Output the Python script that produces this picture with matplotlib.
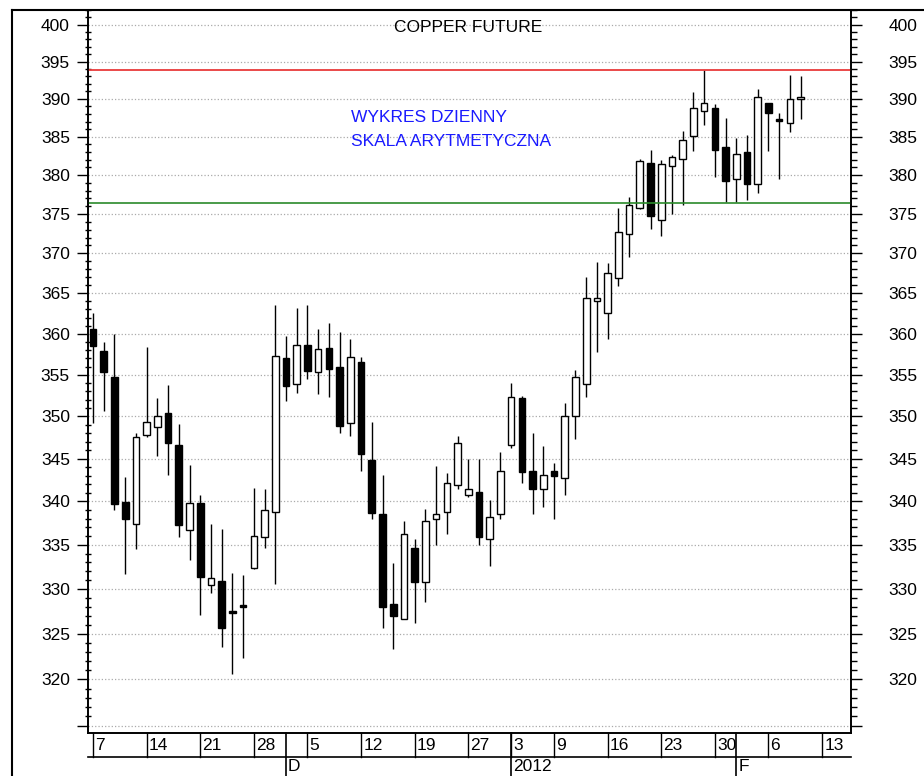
import matplotlib.pyplot as plt
from matplotlib.lines import Line2D
from matplotlib.ticker import NullFormatter

plt.rcParams['font.family'] = ['Liberation Sans', 'DejaVu Sans']

# daily candles, Nov 7 2011 .. Feb 9 2012 (trading day index = position)
opens = [360.6, 357.9, 354.7, 339.9, 337.4, 347.8, 348.7, 350.4, 346.6, 336.7,
         339.8, 330.5, 330.9, 327.5, 328.2, 332.4, 335.9, 338.8, 357.0, 353.9,
         358.6, 355.3, 358.3, 355.9, 349.2, 356.5, 344.8, 338.5, 328.3, 326.6,
         334.6, 330.8, 338.0, 338.8, 341.9, 340.8, 341.1, 335.7, 338.6, 346.6,
         352.2, 343.6, 341.4, 343.6, 342.7, 350.0, 353.9, 364.1, 362.6, 366.9,
         372.4, 375.8, 381.6, 374.2, 381.2, 382.1, 385.1, 388.4, 388.8, 383.6,
         379.5, 383.0, 378.9, 389.4, 387.4, 386.8, 390.0]
highs = [362.5, 359.0, 360.0, 342.9, 348.0, 358.4, 352.2, 353.8, 349.1, 344.3,
         340.7, 337.4, 336.8, 331.8, 331.6, 341.6, 341.4, 363.5, 359.7, 363.2,
         363.5, 360.6, 361.3, 360.2, 359.4, 357.2, 349.3, 343.1, 332.9, 337.8,
         335.7, 339.1, 344.1, 343.3, 347.7, 345.0, 345.0, 340.2, 345.8, 354.0,
         352.4, 348.0, 346.5, 344.5, 351.6, 355.6, 367.0, 368.9, 368.8, 375.8,
         377.2, 382.1, 383.3, 381.9, 382.6, 385.8, 390.9, 393.9, 389.3, 387.5,
         384.8, 385.2, 391.3, 389.4, 388.1, 393.2, 393.1]
lows = [349.2, 350.6, 339.0, 331.7, 334.5, 347.5, 345.3, 343.1, 335.9, 333.3,
        327.1, 329.5, 323.5, 320.6, 322.3, 332.3, 334.6, 330.6, 351.8, 352.8,
        354.5, 352.7, 352.3, 348.0, 347.7, 343.6, 338.0, 325.7, 323.3, 326.6,
        326.2, 328.6, 335.0, 336.2, 341.4, 340.5, 335.0, 332.6, 338.0, 346.2,
        342.2, 338.6, 339.4, 338.0, 340.8, 347.3, 352.3, 357.8, 359.4, 365.9,
        369.5, 375.7, 373.1, 372.2, 375.0, 376.2, 383.2, 386.5, 379.7, 376.5,
        376.5, 376.8, 377.7, 383.1, 379.5, 385.6, 387.4]
closes = [358.5, 355.3, 339.7, 338.0, 347.5, 349.3, 350.1, 346.9, 337.3, 339.8,
          331.4, 331.3, 325.6, 327.3, 328.0, 336.0, 339.0, 357.3, 353.7, 358.6,
          355.5, 358.1, 355.7, 348.9, 357.2, 345.6, 338.7, 328.0, 327.0, 336.2,
          330.8, 337.8, 338.6, 342.2, 346.8, 341.4, 335.9, 338.2, 343.6, 352.3,
          343.4, 341.4, 343.1, 343.0, 350.0, 354.7, 364.4, 364.4, 367.5, 372.7,
          376.2, 381.8, 374.8, 381.4, 382.4, 384.6, 388.8, 389.4, 383.3, 379.2,
          382.8, 378.9, 390.3, 388.1, 387.1, 390.0, 390.0]

day_labels = ['7', '14', '21', '28', '5', '12', '19', '27', '3', '9', '16', '23', '30', '6', '13']
day_pos = [0, 5, 10, 15, 20, 25, 30, 35, 39, 43, 48, 53, 58, 63, 68]
month_labels = ['D', '2012', 'F']
month_pos = [18, 39, 60]

resistance = 393.9
support = 376.4

W, H = 924, 776


def draw_candles(ax):
    x = list(range(len(opens)))
    ax.vlines(x, lows, highs, color='black', lw=1.0, zorder=2)
    bottoms = [min(o, c) for o, c in zip(opens, closes)]
    heights = [max(abs(c - o), 0.25) for o, c in zip(opens, closes)]
    faces = ['black' if c < o else 'white' for o, c in zip(opens, closes)]
    ax.bar(x, heights, bottom=bottoms, width=0.62, color=faces,
           edgecolor='black', linewidth=1.0, zorder=3)


def setup_yaxis(ax, side):
    major = list(range(315, 401, 5))
    minor = [v for v in range(315, 403) if v % 5 != 0]
    ax.set_yscale('log')
    ax.set_ylim(314.2, 402)
    ax.set_yticks(major)
    ax.set_yticklabels(['' if v == 315 else str(v) for v in major])
    ax.set_yticks(minor, minor=True)
    ax.yaxis.set_minor_formatter(NullFormatter())
    if side == 'left':
        ax.tick_params(axis='y', which='major', direction='out', length=8, width=1,
                       labelsize=12.5, pad=5)
        ax.tick_params(axis='y', which='minor', direction='inout', length=5, width=1)
    else:
        ax.tick_params(axis='y', which='major', direction='out', length=8, width=1,
                       labelsize=12.5, pad=19)
        ax.tick_params(axis='y', which='minor', direction='out', length=4, width=1)


def draw_date_axis(ax):
    tr = ax.get_xaxis_transform()
    y_row = -(757 - 733) / 723
    y_end = -(776 - 733) / 723
    ax.plot([0, 1], [y_row, y_row], color='black', lw=1.2,
            transform=ax.transAxes, clip_on=False)
    for lab, p in zip(day_labels, day_pos):
        ax.plot([p, p], [0, y_row], color='black', lw=1.0, transform=tr, clip_on=False)
        ax.annotate(lab, (p, y_row / 2), xycoords=tr, xytext=(1.5, 0),
                    textcoords='offset points', ha='left', va='center', fontsize=12.5)
    for lab, p in zip(month_labels, month_pos):
        ax.plot([p, p], [0, y_end], color='black', lw=1.2, transform=tr, clip_on=False)
        ax.annotate(lab, (p, (y_row + y_end) / 2), xycoords=tr, xytext=(1.5, 0),
                    textcoords='offset points', ha='left', va='center', fontsize=12.5)


def main():
    fig = plt.figure(figsize=(W / 100, H / 100), dpi=100)
    ax = fig.add_axes([88 / W, 1 - 733 / H, (851 - 88) / W, (733 - 10) / H])

    draw_candles(ax)
    ax.set_xlim(-0.47, 70.7)
    ax.set_xticks([])

    setup_yaxis(ax, 'left')
    ax.yaxis.grid(True, which='major', linestyle=':', color='#aaaaaa', lw=0.9)
    ax.set_axisbelow(True)

    ax2 = ax.twinx()
    setup_yaxis(ax2, 'right')

    for a in (ax, ax2):
        a.spines['top'].set_visible(False)
        for s in ('left', 'right', 'bottom'):
            a.spines[s].set_linewidth(1.2)

    ax.axhline(resistance, color='#e83a3a', lw=1.3, zorder=4)
    ax.axhline(support, color='#2a8a2a', lw=1.2, zorder=4)

    ax.text(0.498, (733 - 27) / 723, 'COPPER FUTURE', transform=ax.transAxes,
            ha='center', va='center', fontsize=12.5)
    ax.text((351 - 88) / 763, (733 - 117) / 723, 'WYKRES DZIENNY', transform=ax.transAxes,
            ha='left', va='center', fontsize=12.5, color='#1a1aff')
    ax.text((351 - 88) / 763, (733 - 141) / 723, 'SKALA ARYTMETYCZNA', transform=ax.transAxes,
            ha='left', va='center', fontsize=12.5, color='#1a1aff')

    draw_date_axis(ax)

    # outer frame (left and top edges visible)
    fig.add_artist(Line2D([12 / W, 12 / W], [0, 1 - 10 / H], color='black', lw=1.5,
                          transform=fig.transFigure))
    fig.add_artist(Line2D([12 / W, 1], [1 - 10 / H, 1 - 10 / H], color='black', lw=1.5,
                          transform=fig.transFigure))

    fig.savefig('out.png', dpi=100)


if __name__ == '__main__':
    main()
